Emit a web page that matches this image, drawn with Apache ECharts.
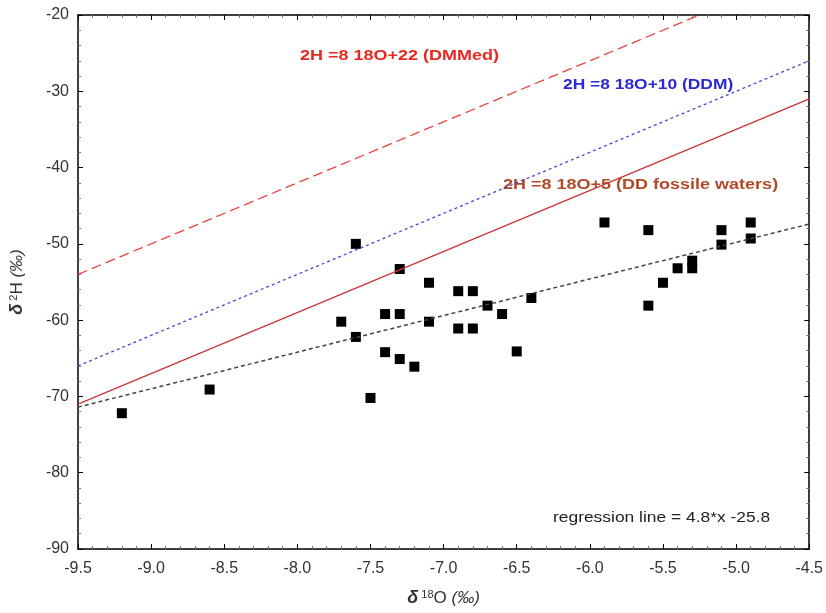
<!DOCTYPE html>
<html>
<head>
<meta charset="utf-8">
<script src="https://cdn.jsdelivr.net/npm/echarts@6/dist/echarts.min.js"></script>
<style>
html,body{margin:0;padding:0;background:#fff;}
#c{width:826px;height:613px;}
</style>
</head>
<body>
<div id="c"></div>
<script>
// ---- data ----
var samples = [
  [-9.2,-72.2],[-8.6,-69.1],[-7.7,-60.2],[-7.6,-50.0],[-7.6,-62.2],[-7.5,-70.2],
  [-7.4,-59.2],[-7.4,-64.2],[-7.3,-53.3],[-7.3,-59.2],[-7.3,-65.1],[-7.2,-66.1],
  [-7.1,-55.1],[-7.1,-60.2],[-6.9,-56.2],[-6.9,-61.1],[-6.8,-56.2],[-6.8,-61.1],
  [-6.7,-58.1],[-6.6,-59.2],[-6.5,-64.1],[-6.4,-57.1],[-5.9,-47.2],[-5.6,-48.2],
  [-5.6,-58.1],[-5.5,-55.1],[-5.4,-53.2],[-5.3,-52.2],[-5.3,-53.2],[-5.1,-48.2],
  [-5.1,-50.1],[-4.9,-47.2],[-4.9,-49.3]
];
var lineDMMed = [[-9.5,-54],[-5.25,-20]];       // 2H = 8 18O + 22
var lineDDM = [[-9.5,-66],[-4.5,-26]];          // 2H = 8 18O + 10
var lineFossil = [[-9.5,-71],[-4.5,-31]];       // 2H = 8 18O + 5
var lineRegression = [[-9.5,-71.4],[-4.5,-47.4]]; // 4.8*x - 25.8
var labelDMMed = '2H =8 18O+22 (DMMed)';
var labelDDM = '2H =8 18O+10 (DDM)';
var labelFossil = '2H =8 18O+5 (DD fossile waters)';
var labelRegression = 'regression line = 4.8*x -25.8';
var xRange = [-9.5,-4.5], yRange = [-90,-20];

var FONT = '"Liberation Sans", Arial, sans-serif';
var chart = echarts.init(document.getElementById('c'), null, {renderer:'canvas'});

function frameAxis(pos, isX, show){
  return {
    type:'value', position:pos,
    min: isX?xRange[0]:yRange[0], max: isX?xRange[1]:yRange[1],
    interval: isX?0.5:10,
    axisLine:{show:true, onZero:false, lineStyle:{color:'#000', width:1.5}},
    axisTick:{show:true, inside:true, length:5, lineStyle:{color:'#000'}},
    minorTick:{show:true, splitNumber:5, length:3, lineStyle:{color:'#777'}},
    axisLabel:{show:show, color:'#333', fontSize:16, fontFamily:FONT, margin: isX?12:9,
      formatter: isX ? function(v){return v.toFixed(1);} : function(v){return String(v);}},
    splitLine:{show:false}
  };
}

var nameRich = {
  d:{fontFamily:FONT, fontSize:18, fontWeight:'bold', fontStyle:'italic', color:'#333', padding:[0,3,0,0]},
  s:{fontFamily:FONT, fontSize:11, color:'#333', verticalAlign:'top', padding:[0,0,7,0]},
  n:{fontFamily:FONT, fontSize:17, color:'#333'},
  i:{fontFamily:FONT, fontSize:17, fontStyle:'italic', color:'#333'}
};
var xMain = frameAxis('bottom', true, true);
xMain.name = '{d|δ}{s|18}{n|O }{i|(‰)}';
xMain.nameLocation = 'middle';
xMain.nameGap = 40;
xMain.nameTextStyle = {rich:nameRich};
var yMain = frameAxis('left', false, true);
yMain.name = '{d|δ}{s|2}{n|H }{i|(‰)}';
yMain.nameLocation = 'middle';
yMain.nameGap = 52;
yMain.nameTextStyle = {rich:nameRich};

var option = {
  animation:false,
  backgroundColor:'#fff',
  grid:{left:77.5, right:16, top:15, bottom:64, containLabel:false},
  xAxis:[xMain, frameAxis('top', true, false)],
  yAxis:[yMain, frameAxis('right', false, false)],
  series:[
    {type:'line', data:lineDMMed, symbol:'none', silent:true,
      lineStyle:{color:'#e8433e', width:1.3, type:[10,5]}},
    {type:'line', data:lineDDM, symbol:'none', silent:true,
      lineStyle:{color:'#4a45d8', width:1.3, type:[3,3]}},
    {type:'line', data:lineFossil, symbol:'none', silent:true,
      lineStyle:{color:'#c8363a', width:1.3}},
    {type:'line', data:lineRegression, symbol:'none', silent:true,
      lineStyle:{color:'#444', width:1.5, type:[4,3]}},
    {type:'scatter', data:samples, symbol:'rect', symbolSize:10,
      itemStyle:{color:'#000', opacity:1}}
  ],
  graphic:[
    {type:'text', x:300, y:48, scaleX:1.2, style:{text:labelDMMed, fill:'#e42a22', font:'bold 15px '+FONT}},
    {type:'text', x:563, y:77, scaleX:1.16, style:{text:labelDDM, fill:'#2a2ad0', font:'bold 15px '+FONT}},
    {type:'text', x:503, y:177, scaleX:1.2, style:{text:labelFossil, fill:'#b14a28', font:'bold 15px '+FONT}},
    {type:'text', x:553, y:510, scaleX:1.16, style:{text:labelRegression, fill:'#222', font:'15px '+FONT}}
  ]
};
chart.setOption(option);
</script>
</body>
</html>
